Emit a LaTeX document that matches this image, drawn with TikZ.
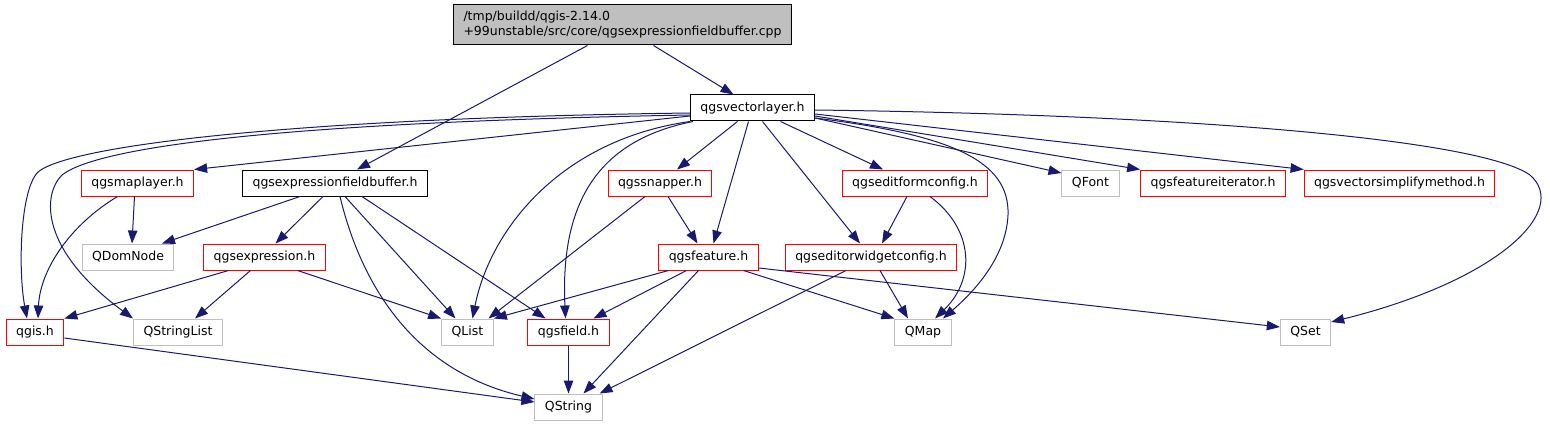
\documentclass[tikz,border=0pt]{standalone}
\usepackage{fontspec}
\setmainfont{DejaVu Sans}
\usetikzlibrary{arrows.meta,positioning}
\definecolor{edgeblue}{HTML}{191970}
\definecolor{boxgray}{HTML}{BFBFBF}

\begin{document}
\begin{tikzpicture}[
  x=1pt,y=-1pt,
  file/.style={rectangle,draw=black,line width=1pt,minimum height=26pt,
               inner xsep=10pt,inner ysep=0pt,
               font=\fontsize{12.5}{15}\selectfont},
  header/.style={file,draw=red},
  qtfile/.style={file,draw=boxgray},
  dep/.style={-{Triangle[length=13pt,width=9.5pt]},edgeblue,line width=1pt}
]
  \useasboundingbox (0,0) rectangle (1550,425);

  \node[file,fill=boxgray,align=left,minimum height=40pt] (cpp) at (622.5,25)
    {/tmp/buildd/qgis-2.14.0\\+99unstable/src/core/qgsexpressionfieldbuffer.cpp};
  \node[file]   (vl)    at (752.5,108) {qgsvectorlayer.h};

  \node[header] (ml)    at (137.5,183) {qgsmaplayer.h};
  \node[file]   (qfb)   at (335,183)   {qgsexpressionfieldbuffer.h};
  \node[header] (sn)    at (660,183)   {qgssnapper.h};
  \node[header] (efc)   at (915,183)   {qgseditformconfig.h};
  \node[qtfile] (qfont) at (1090.5,183) {QFont};
  \node[header] (fi)    at (1213,183)  {qgsfeatureiterator.h};
  \node[header] (vsm)   at (1399.5,183) {qgsvectorsimplifymethod.h};

  \node[qtfile] (qdn)   at (128,257)   {QDomNode};
  \node[header] (qexp)  at (264.5,257) {qgsexpression.h};
  \node[header] (feat)  at (708.5,257) {qgsfeature.h};
  \node[header] (ewc)   at (871,257)   {qgseditorwidgetconfig.h};

  \node[header] (qgis)  at (35,332)    {qgis.h};
  \node[qtfile] (qsl)   at (178,332)   {QStringList};
  \node[qtfile] (ql)    at (467.5,332) {QList};
  \node[header] (qf)    at (568.5,332) {qgsfield.h};
  \node[qtfile] (qm)    at (923,332)   {QMap};
  \node[qtfile] (qset)  at (1305.5,332) {QSet};
  \node[qtfile] (qs)    at (568.5,407) {QString};

  % from the source file
  \draw[dep] ([xshift=31pt]cpp.south) -- ([xshift=-19pt]vl.north);
  \draw[dep] ([xshift=-35pt]cpp.south) -- ([xshift=22pt]qfb.north);

  % qgsvectorlayer.h
  \draw[dep] ([yshift=-8pt]vl.west) -- (ml.north east);
  \draw[dep] ([yshift=-5pt]vl.west) .. controls (300,118) and (70,145) .. (38,172)
             .. controls (20,190) and (18,270) .. ([xshift=-8pt]qgis.north);
  \draw[dep] ([yshift=-7pt]vl.west) .. controls (300,122) and (100,145) .. (62,175)
             .. controls (42,195) and (40,250) .. (qsl.north west);
  \draw[dep] (vl.south west) .. controls (560,140) and (490,230) .. ([xshift=5pt]ql.north);
  \draw[dep] ([xshift=3pt]vl.south west) .. controls (600,140) and (560,200) .. ([xshift=-3pt]qf.north);
  \draw[dep] ([xshift=-15pt]vl.south) -- ([xshift=17pt]sn.north);
  \draw[dep] ([xshift=-4pt]vl.south) -- ([xshift=5pt]feat.north);
  \draw[dep] ([xshift=10pt]vl.south) -- ([xshift=-11pt]ewc.north);
  \draw[dep] ([xshift=28pt]vl.south) -- ([xshift=-32pt]efc.north);
  \draw[dep] ([yshift=-10pt]vl.east) .. controls (950,135) and (1010,160) .. (1008,215)
             .. controls (1006,260) and (970,295) .. ([xshift=20pt]qm.north);
  \draw[dep] ([yshift=-10pt]vl.east) -- ([yshift=10pt]qfont.west);
  \draw[dep] ([yshift=-8pt]vl.east) -- (fi.north west);
  \draw[dep] ([yshift=-6pt]vl.east) -- (vsm.north west);
  \draw[dep] ([yshift=-2pt]vl.east) .. controls (1200,115) and (1480,140) .. (1530,175)
             .. controls (1570,210) and (1500,280) .. ([yshift=10pt]qset.east);

  % second row
  \draw[dep] ([xshift=-3pt]ml.south) -- ([xshift=4pt]qdn.north);
  \draw[dep] ([xshift=-20pt]ml.south) .. controls (70,225) and (40,270) .. ([xshift=3pt]qgis.north);
  \draw[dep] ([xshift=-35pt]qfb.south) -- ([xshift=34pt]qdn.north);
  \draw[dep] ([xshift=-12pt]qfb.south) -- ([xshift=11pt]qexp.north);
  \draw[dep] ([xshift=5pt]qfb.south) .. controls (360,280) and (410,370) .. ([yshift=8pt]qs.west);
  \draw[dep] ([xshift=10pt]qfb.south) -- ([xshift=-12pt]ql.north);
  \draw[dep] ([xshift=27pt]qfb.south) -- ([xshift=-23pt]qf.north);
  \draw[dep] ([xshift=8pt]sn.south) -- ([xshift=-11pt]feat.north);
  \draw[dep] ([xshift=-15pt]sn.south) -- ([xshift=21pt]ql.north);
  \draw[dep] ([xshift=-8pt]efc.south) -- ([xshift=11pt]ewc.north);
  \draw[dep] ([xshift=15pt]efc.south) .. controls (975,230) and (975,280) .. ([xshift=12pt]qm.north);

  % third row
  \draw[dep] ([xshift=-36pt]qexp.south) -- (qgis.north east);
  \draw[dep] ([xshift=-14pt]qexp.south) -- ([xshift=17pt]qsl.north);
  \draw[dep] ([xshift=33pt]qexp.south) -- (ql.north west);
  \draw[dep] ([xshift=-40pt]feat.south) -- (ql.north east);
  \draw[dep] ([xshift=-22pt]feat.south) -- ([xshift=25pt]qf.north);
  \draw[dep] ([xshift=-10pt]feat.south) -- ([xshift=15pt]qs.north);
  \draw[dep] ([xshift=35pt]feat.south) -- (qm.north west);
  \draw[dep] ([yshift=-11pt]feat.east) -- ([yshift=5pt]qset.west);
  \draw[dep] ([xshift=9pt]ewc.south) -- ([xshift=-15pt]qm.north);
  \draw[dep] ([xshift=-25pt]ewc.south) -- ([xshift=-3pt]qs.north east);

  % bottom
  \draw[dep] (qf) -- (qs);
  \draw[dep] ([yshift=-6pt]qgis.east) -- ([yshift=5pt]qs.west);
\end{tikzpicture}
\end{document}
